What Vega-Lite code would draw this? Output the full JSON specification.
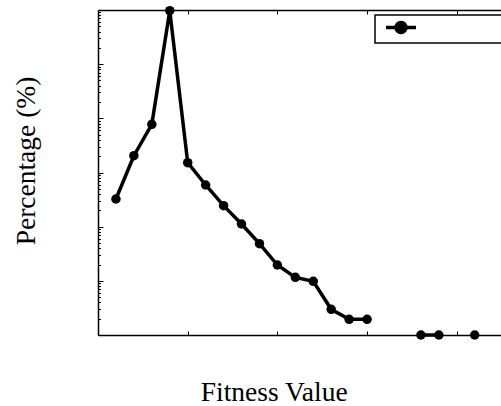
{
  "$schema": "https://vega.github.io/schema/vega-lite/v6.json",
  "width": 403,
  "height": 325,
  "autosize": {"type": "none"},
  "padding": {"left": 98, "top": 10, "right": 0, "bottom": 71},
  "config": {
    "view": {"stroke": null},
    "font": "Liberation Serif",
    "axis": {"domainColor": "black", "domainWidth": 1.5, "tickColor": "black", "tickWidth": 1, "labels": false, "grid": false}
  },
  "data": {
    "values": [
      {"fitness": 0.2, "percentage": 0.0324, "series": " ", "segment": 1},
      {"fitness": 0.4, "percentage": 0.204, "series": " ", "segment": 1},
      {"fitness": 0.6, "percentage": 0.776, "series": " ", "segment": 1},
      {"fitness": 0.8, "percentage": 97, "series": " ", "segment": 1},
      {"fitness": 1.0, "percentage": 0.152, "series": " ", "segment": 1},
      {"fitness": 1.2, "percentage": 0.0588, "series": " ", "segment": 1},
      {"fitness": 1.4, "percentage": 0.0244, "series": " ", "segment": 1},
      {"fitness": 1.6, "percentage": 0.0112, "series": " ", "segment": 1},
      {"fitness": 1.8, "percentage": 0.00485, "series": " ", "segment": 1},
      {"fitness": 2.0, "percentage": 0.00196, "series": " ", "segment": 1},
      {"fitness": 2.2, "percentage": 0.00116, "series": " ", "segment": 1},
      {"fitness": 2.4, "percentage": 0.00098, "series": " ", "segment": 1},
      {"fitness": 2.6, "percentage": 0.000298, "series": " ", "segment": 1},
      {"fitness": 2.8, "percentage": 0.000195, "series": " ", "segment": 1},
      {"fitness": 3.0, "percentage": 0.000195, "series": " ", "segment": 1},
      {"fitness": 3.6, "percentage": 0.0001, "series": " ", "segment": 2},
      {"fitness": 3.8, "percentage": 0.0001, "series": " ", "segment": 2},
      {"fitness": 4.2, "percentage": 0.0001, "series": " ", "segment": 3}
    ]
  },
  "layer": [
    {
      "mark": {"type": "line", "strokeWidth": 3.5},
      "encoding": {
        "x": {
          "field": "fitness", "type": "quantitative",
          "scale": {"domain": [0, 4.493], "nice": false, "zero": false},
          "axis": {"orient": "bottom", "values": [1, 2, 3, 4], "tickSize": -4, "title": "Fitness Value", "titleFontSize": 27.5, "titleFontWeight": "normal", "titleColor": "black", "titleX": 175.7, "titleY": 65, "titleAlign": "center", "titleBaseline": "alphabetic"}
        },
        "y": {
          "field": "percentage", "type": "quantitative",
          "scale": {"type": "log", "domain": [0.0001, 100], "nice": false},
          "axis": {
            "orient": "left",
            "values": [0.0001,0.0002,0.0003,0.0004,0.0005,0.0006,0.0007,0.0008,0.0009,0.001,0.002,0.003,0.004,0.005,0.006,0.007,0.008,0.009,0.01,0.02,0.03,0.04,0.05,0.06,0.07,0.08,0.09,0.1,0.2,0.3,0.4,0.5,0.6,0.7,0.8,0.9,1,2,3,4,5,6,7,8,9,10,20,30,40,50,60,70,80,90,100],
            "tickSize": {"condition": {"test": "abs(log(datum.value)/LN10 - round(log(datum.value)/LN10)) < 0.001", "value": -5}, "value": -2.5},
            "title": "Percentage (%)", "titleFontSize": 27.5, "titleFontWeight": "normal", "titleColor": "black", "titleX": -72, "titleY": 150.5, "titleAlign": "center", "titleBaseline": "middle", "titleAngle": -90
          }
        },
        "color": {
          "field": "series", "type": "nominal",
          "scale": {"range": ["black"]},
          "legend": {"orient": "none", "legendX": 277, "legendY": 5, "title": null, "strokeColor": "black", "fillColor": "white", "padding": 3, "symbolType": "M -2 0 L 2 0 M 0.667 0 A 0.667 0.667 0 1 1 -0.667 0 A 0.667 0.667 0 1 1 0.667 0 Z", "symbolSize": 225, "symbolStrokeWidth": 3.5, "symbolFillColor": "black", "symbolStrokeColor": "black", "symbolOffset": 13.5, "labelOffset": 150,
            "encode": {"legend": {"update": {"strokeWidth": {"value": 1.5}}}}}
        },
        "detail": {"field": "segment", "type": "nominal"}
      }
    },
    {
      "mark": {"type": "point", "filled": true, "size": 90, "opacity": 1, "shape": "circle"},
      "encoding": {
        "x": {
          "field": "fitness", "type": "quantitative",
          "scale": {"domain": [0, 4.493], "nice": false, "zero": false},
          "axis": {"orient": "top", "values": [1, 2, 3, 4], "tickSize": -4, "title": null}
        },
        "y": {
          "field": "percentage", "type": "quantitative",
          "scale": {"type": "log", "domain": [0.0001, 100], "nice": false},
          "axis": {
            "orient": "left",
            "values": [0.0001,0.0002,0.0003,0.0004,0.0005,0.0006,0.0007,0.0008,0.0009,0.001,0.002,0.003,0.004,0.005,0.006,0.007,0.008,0.009,0.01,0.02,0.03,0.04,0.05,0.06,0.07,0.08,0.09,0.1,0.2,0.3,0.4,0.5,0.6,0.7,0.8,0.9,1,2,3,4,5,6,7,8,9,10,20,30,40,50,60,70,80,90,100],
            "tickSize": {"condition": {"test": "abs(log(datum.value)/LN10 - round(log(datum.value)/LN10)) < 0.001", "value": -5}, "value": -2.5},
            "title": "Percentage (%)", "titleFontSize": 27.5, "titleFontWeight": "normal", "titleColor": "black", "titleX": -72, "titleY": 150.5, "titleAlign": "center", "titleBaseline": "middle", "titleAngle": -90
          }
        },
        "color": {
          "field": "series", "type": "nominal",
          "scale": {"range": ["black"]},
          "legend": {"orient": "none", "legendX": 277, "legendY": 5, "title": null, "strokeColor": "black", "fillColor": "white", "padding": 3, "symbolType": "M -2 0 L 2 0 M 0.667 0 A 0.667 0.667 0 1 1 -0.667 0 A 0.667 0.667 0 1 1 0.667 0 Z", "symbolSize": 225, "symbolStrokeWidth": 3.5, "symbolFillColor": "black", "symbolStrokeColor": "black", "symbolOffset": 13.5, "labelOffset": 150,
            "encode": {"legend": {"update": {"strokeWidth": {"value": 1.5}}}}}
        }
      }
    }
  ],
  "resolve": {"axis": {"x": "independent"}}
}
